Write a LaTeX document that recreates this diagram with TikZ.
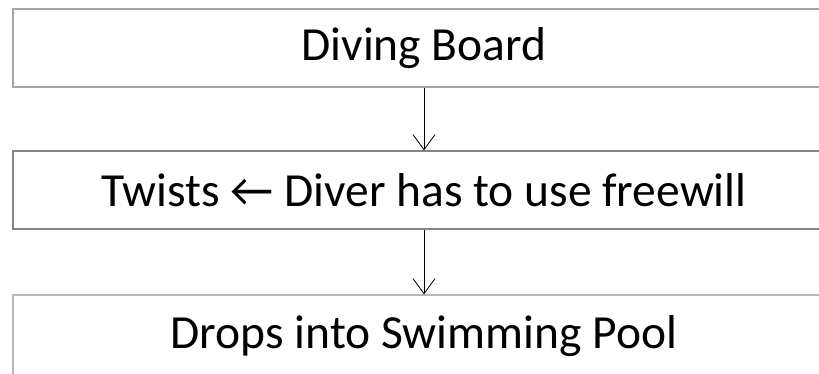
\documentclass[tikz,border=0pt]{standalone}
\usepackage{fontspec}
\setmainfont{Carlito}
\usetikzlibrary{arrows.meta}
\begin{document}
\begin{tikzpicture}[x=1pt,y=1pt,
  stagebox/.style={draw=#1, line width=1.3pt, minimum width=822pt, minimum height=78pt,
    inner sep=0pt, font=\fontsize{47.5}{54}\selectfont, text=black},
  flow/.style={draw=black, line width=0.8pt, -{Straight Barb[length=15pt,width=22pt,line width=0.8pt]}}]
\useasboundingbox (0,0) rectangle (819,373);
\clip (0,0) rectangle (819,373);
\node[stagebox={black!35}] (board) at (424,325) {Diving Board};
\node[stagebox={black!48}] (twist) at (424,183) {Twists ← Diver has to use freewill};
\node[stagebox={black!28}, minimum height=82pt] (pool)  at (424,37)  {Drops into Swimming Pool};
\draw[flow] (board.south) -- (twist.north);
\draw[flow] (twist.south) -- (pool.north);
\end{tikzpicture}
\end{document}
